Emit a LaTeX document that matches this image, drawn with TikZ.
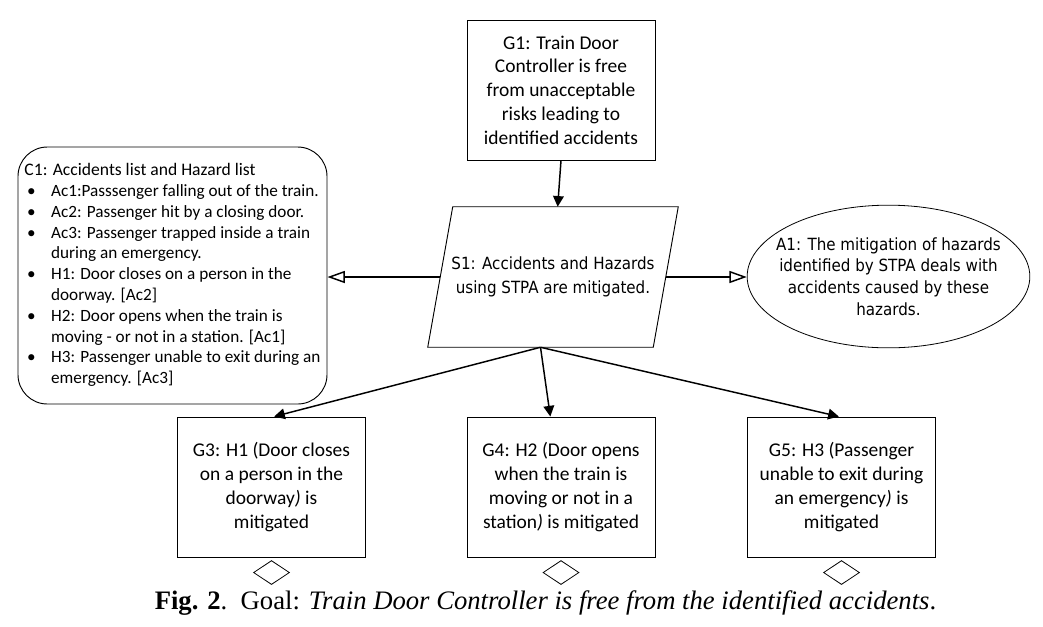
\documentclass[tikz,border=0pt]{standalone}
\usepackage{fontspec}
\setmainfont{Carlito}
\newfontfamily\capfont{Liberation Serif}
\newfontfamily\narrowfont{DejaVu Sans Condensed}
\usetikzlibrary{arrows.meta, positioning, shapes.geometric}

\newcommand{\bul}{\makebox[20pt][l]{\hspace{2pt}\textbullet}}

\tikzset{
  goalbox/.style={draw, line width=0.7pt, minimum width=141pt, minimum height=105pt,
    inner sep=1pt, align=center, font=\fontsize{14.6}{17.8}\selectfont},
  strategy/.style={minimum width=168.75pt, minimum height=105pt, inner sep=0pt,
    align=center, font=\narrowfont\fontsize{12.6}{18}\selectfont},
  context/.style={draw, line width=0.7pt, rounded corners=22pt, minimum width=231.75pt,
    minimum height=192.75pt, inner sep=0pt, align=left},
  assumption/.style={draw, line width=0.6pt, ellipse, minimum width=212pt, minimum height=107pt,
    inner xsep=-9.5pt, inner ysep=5pt, align=center, font=\narrowfont\fontsize{12.6}{16.2}\selectfont},
  undev/.style={draw, line width=0.6pt, diamond, aspect=1.5, minimum width=27pt,
    minimum height=18pt, inner sep=0pt},
  solved/.style={-{Triangle[length=8pt, width=8pt]}, line width=1.1pt},
  incontext/.style={-{Triangle[open, length=13pt, width=9pt, line width=1.1pt]}, line width=1.1pt}
}

\begin{document}
\begin{tikzpicture}[x=0.75pt, y=-0.75pt]
\useasboundingbox (0,0) rectangle (1043,626);

% goal, strategy, context, assumption
\node (g1) [goalbox] at (561,90) {G1: Train Door\\Controller is free\\from unacceptable\\risks leading to\\identified accidents};
\node (s1) [strategy] at (553,277) {S1: Accidents and Hazards\\using STPA are mitigated.};
\draw [line width=0.7pt] ([xshift=-9.375pt]s1.south west) -- ([xshift=-9.375pt]s1.south east)
  -- ([xshift=9.375pt]s1.north east) -- ([xshift=9.375pt]s1.north west) -- cycle;
\node (c1) [context] at (172.5,275.5) {%
  \fontsize{12.9}{15.6}\selectfont
  \begin{tabular}{@{}l@{}l@{}}
  \multicolumn{2}{@{}l@{}}{\fontsize{13.2}{15.6}\selectfont C1: Accidents list and Hazard list}\\
  \bul & Ac1:Passsenger falling out of the train.\\
  \bul & Ac2: Passenger hit by a closing door.\\
  \bul & Ac3: Passenger trapped inside a train\\
       & during an emergency.\\
  \bul & H1: Door closes on a person in the\\
       & doorway. [Ac2]\\
  \bul & H2: Door opens when the train is\\
       & moving - or not in a station. [Ac1]\\
  \bul & H3: Passenger unable to exit during an\\
       & emergency. [Ac3]
  \end{tabular}};
\node (a1) [assumption] at (888.5,276.5) {A1: The mitigation of hazards\\identified by STPA deals with\\accidents caused by these\\hazards.};

% sub-goals
\node (g3) [goalbox] at (271.5,487) {G3: H1 (Door closes\\on a person in the\\doorway\textit{)} is\\mitigated};
\node (g4) [goalbox] at (561,487) {G4: H2 (Door opens\\when the train is\\moving or not in a\\station\textit{)} is mitigated};
\node (g5) [goalbox] at (841.5,487) {G5: H3 (Passenger\\unable to exit during\\an emergency\textit{)} is\\mitigated};
\node (u3) [undev, below=2pt of g3] {};
\node (u4) [undev, below=2pt of g4] {};
\node (u5) [undev, below=2pt of g5] {};

\node (cap) at (545.5,603) {\capfont\fontsize{20}{22}\selectfont\textbf{Fig. 2}.\ \ Goal: \textit{Train Door Controller is free from the identified accidents}.};

\draw [solved] (g1.south) -- ([xshift=3.5pt]s1.north);
\draw [incontext] (s1.west) -- (s1.west -| c1.east);
\draw [incontext] (s1.east) -- (s1.east -| a1.west);
\draw [solved] ([xshift=-9.375pt]s1.south) -- ([xshift=2pt]g3.north);
\draw [solved] ([xshift=-9.375pt]s1.south) -- ([xshift=-8pt]g4.north);
\draw [solved] ([xshift=-9.375pt]s1.south) -- ([xshift=-2pt]g5.north);
\end{tikzpicture}
\end{document}
